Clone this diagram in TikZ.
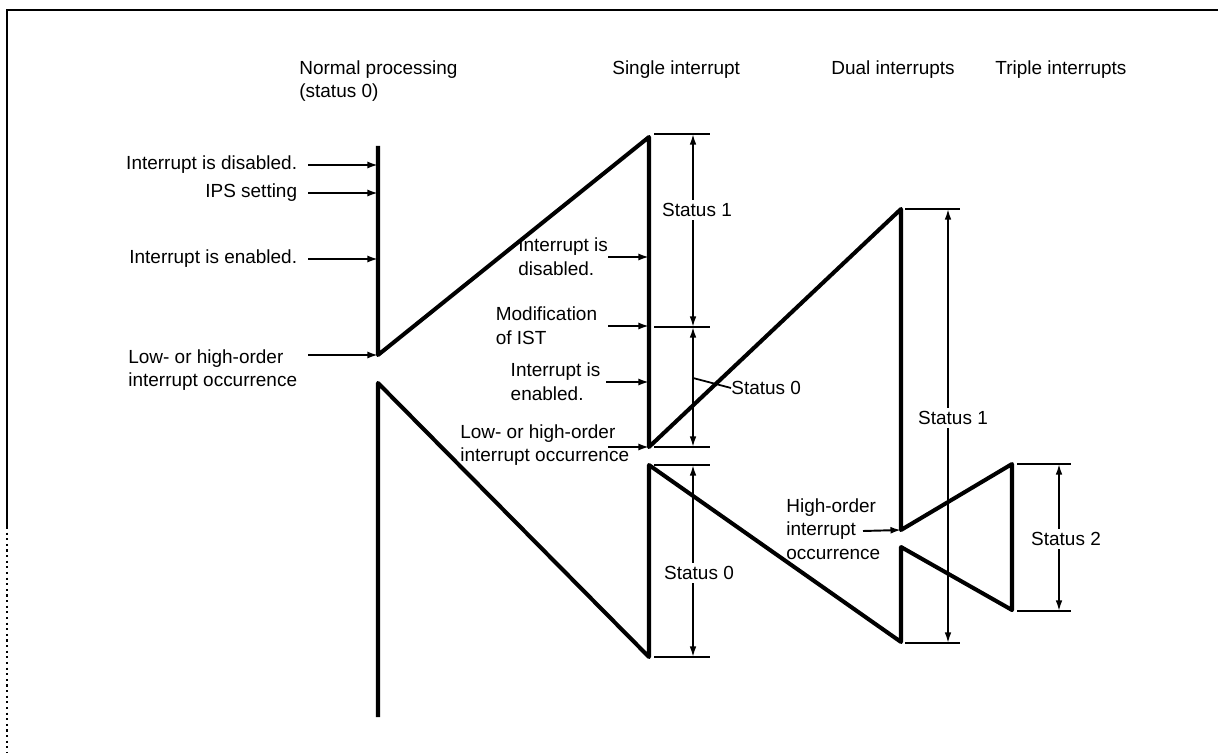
\documentclass[tikz,border=0pt]{standalone}
\usepackage{fontspec}
\setmainfont{Liberation Sans}
\usetikzlibrary{arrows.meta}

\tikzset{
  wave/.style={line width=2.3pt, line join=round},
  pointer/.style={line width=1.1pt, -{Latex[length=6pt,width=4pt]}},
  dimline/.style={line width=1pt, {Latex[length=6pt,width=3.8pt]}-{Latex[length=6pt,width=3.8pt]}},
  limit/.style={line width=1.7pt},
  lbl/.style={font=\fontsize{10.8}{13.5}\selectfont, inner xsep=6pt, inner ysep=0pt, align=left},
  status/.style={font=\fontsize{10.8}{13.5}\selectfont, fill=white, inner sep=2pt}
}

\begin{document}
\begin{tikzpicture}[x=0.02cm, y=-0.02cm]
    \useasboundingbox (0,0) rectangle (1220,753);
    % frame
    \draw[line width=1.2pt] (7,527) -- (7,10) -- (1218,10);
    \draw[line width=1.2pt, dotted] (7,527) -- (7,753);

    % headings
    \node[lbl, anchor=north west, inner xsep=0pt] (hnorm) at (299,60) {Normal processing\\(status 0)};
    \node[lbl, anchor=base west, inner xsep=0pt] (hsing) at (612,75) {Single interrupt};
    \node[lbl, anchor=base west, inner xsep=0pt] (hdual) at (831,75) {Dual interrupts};
    \node[lbl, anchor=base west, inner xsep=0pt] (htrip) at (995,75) {Triple interrupts};

    % waveform
    \coordinate (n0) at (378,146);
    \coordinate (n1) at (378,355);
    \coordinate (n2) at (378,383);
    \coordinate (n3) at (378,717);
    \coordinate (s0) at (649,137);
    \coordinate (s1) at (649,447);
    \coordinate (s2) at (649,465);
    \coordinate (s3) at (649,657);
    \coordinate (d0) at (901,209);
    \coordinate (d1) at (901,530);
    \coordinate (d2) at (901,547);
    \coordinate (d3) at (901,642);
    \coordinate (t0) at (1012,464);
    \coordinate (t1) at (1012,610);
    \draw[wave] (n0) -- (n1) -- (s0) -- (s1) -- (d0) -- (d1) -- (t0) -- (t1)
        -- (d2) -- (d3) -- (s2) -- (s3) -- (n2) -- (n3);

    % normal processing
    \node[lbl, anchor=east] (ldis) at (308,165) {Interrupt is disabled.};
    \node[lbl, anchor=east] (lips) at (308,193) {IPS setting};
    \node[lbl, anchor=east] (lena) at (308,259) {Interrupt is enabled.};
    \node[lbl, anchor=north east] (locc) at (308,349) {Low- or high-order\\interrupt occurrence};
    \draw[pointer] (ldis.east) -- (ldis.east -| n0);
    \draw[pointer] (lips.east) -- (lips.east -| n0);
    \draw[pointer] (lena.east) -- (lena.east -| n0);
    \draw[pointer] (locc.north east |- n1) -- (n1);

    % single interrupt
    \node[lbl, anchor=east, inner xsep=1pt] (idis) at (610,257) {Interrupt is\\disabled.};
    \node[lbl, anchor=east] (imod) at (608,326) {Modification\\of IST};
    \node[lbl, anchor=east, inner xsep=3pt] (iena) at (606,382) {Interrupt is\\enabled.};
    \node[lbl, anchor=west, inner xsep=0pt] (iocc) at (460,445) {Low- or high-order\\interrupt occurrence};
    \coordinate (ioccp) at (608,447);
    \draw[pointer] ([xshift=-1pt]idis.east) -- (idis.east -| s0);
    \draw[pointer] (imod.east) -- (imod.east -| s0);
    \draw[pointer] (iena.east) -- (iena.east -| s0);
    \draw[pointer] (ioccp) -- (s1);

    \foreach \y/\n in {134/a,327/b,447/c,465/d,657/e} {
        \draw[limit] (654,\y) -- (710,\y);
        \coordinate (sd\n) at (693,\y);
    }
    \draw[dimline] (sda) -- (sdb);
    \draw[dimline] (sdb) -- (sdc);
    \draw[dimline] (sdd) -- (sde);
    \node[status] (sst1) at (697,210) {Status 1};
    \node[status] (sst0) at (699,573) {Status 0};
    \node[lbl, anchor=west, inner xsep=0pt] (sst0a) at (731,388) {Status 0};
    \coordinate (lead) at (693,378);
    \draw[line width=1pt] (lead) -- (sst0a.west);

    % dual interrupts
    \node[lbl, anchor=west, inner xsep=0pt] (hocc) at (786,529) {High-order\\interrupt\\occurrence};
    \coordinate (hoccp) at (863,531);
    \draw[pointer] (hoccp) -- (d1);
    \foreach \y/\n in {209/a,643/b} {
        \draw[limit] (905,\y) -- (960,\y);
        \coordinate (dd\n) at (948,\y);
    }
    \draw[dimline] (dda) -- (ddb);
    \node[status] (dst1) at (953,418) {Status 1};

    % triple interrupts
    \foreach \y/\n in {464/a,611/b} {
        \draw[limit] (1017,\y) -- (1071,\y);
        \coordinate (td\n) at (1059,\y);
    }
    \draw[dimline] (tda) -- (tdb);
    \node[status] (tst2) at (1066,539) {Status 2};
\end{tikzpicture}
\end{document}
